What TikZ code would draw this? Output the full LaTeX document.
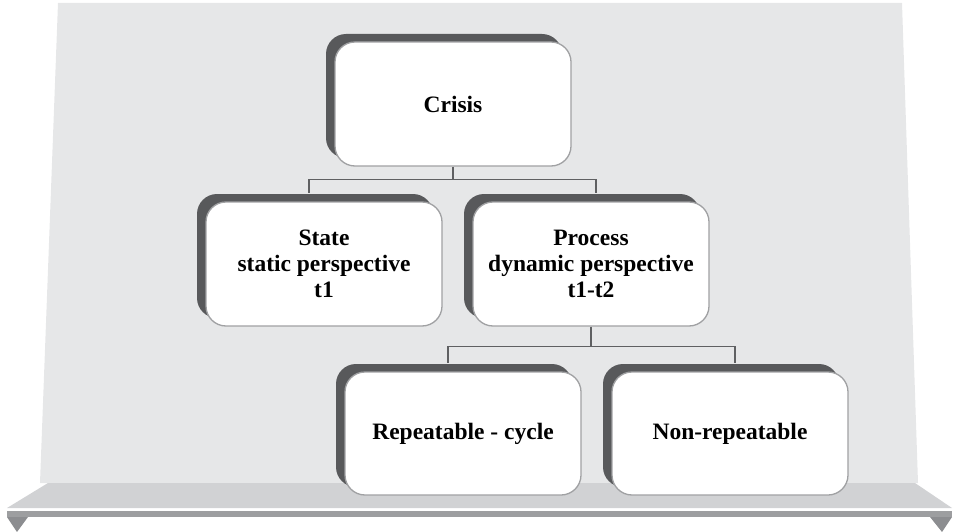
\documentclass[tikz,border=0pt]{standalone}
\usepackage{fontspec}
\setmainfont{Liberation Serif}
\usepackage{tikz}
\usepackage{xcolor}
\usetikzlibrary{shadows}
\definecolor{panelGray}{RGB}{230,231,232}
\definecolor{shelfGray}{RGB}{209,210,212}
\definecolor{stripGray}{RGB}{157,158,160}
\definecolor{footGray}{RGB}{140,141,144}
\definecolor{shadeGray}{RGB}{88,89,91}
\definecolor{edgeGray}{RGB}{160,161,163}
\definecolor{linkGray}{RGB}{95,96,98}

\begin{document}
\begin{tikzpicture}[
  x=1pt, y=-1pt,
  box/.style={draw=edgeGray, line width=1.3pt, fill=white, rounded corners=20pt,
    minimum width=236pt, minimum height=124pt, align=center,
    font=\bfseries\fontsize{23.5}{26}\selectfont,
    drop shadow={shadow xshift=-9pt, shadow yshift=8pt, fill=shadeGray, opacity=1}},
  link/.style={draw=linkGray, line width=1.2pt},
]
  \useasboundingbox (0,0) rectangle (953,532);
  \fill[panelGray] (58,3) -- (902,3) -- (918,483) -- (40,483) -- cycle;
  \fill[shelfGray] (48,483) -- (915,483) -- (952,508) -- (7,508) -- cycle;
  \fill[stripGray] (7,511) rectangle (952,517);
  \fill[footGray] (7,517) -- (28,517) -- (17,532) -- cycle;
  \fill[footGray] (930,517) -- (952,517) -- (942,532) -- cycle;

  \node[box] (crisis) at (453,104) {Crisis};
  \node[box] (state) at (324,264) {State\\static perspective\\t1};
  \node[box] (process) at (591,264) {Process\\dynamic perspective\\t1-t2};
  \node[box, minimum height=123pt] (repeat) at (463,433.5) {Repeatable - cycle};
  \node[box, minimum height=123pt] (nonrepeat) at (730,433.5) {Non-repeatable};

  \draw[link] (crisis.south) -- ([yshift=-13pt]crisis.south) -| ([xshift=-15pt,yshift=8pt]state.north);
  \draw[link] ([yshift=-13pt]crisis.south) -| ([xshift=5pt,yshift=8pt]process.north);
  \draw[link] (process.south) -- ([yshift=-20pt]process.south) -| ([xshift=-15pt,yshift=8pt]repeat.north);
  \draw[link] ([yshift=-20pt]process.south) -| ([xshift=5pt,yshift=8pt]nonrepeat.north);
\end{tikzpicture}
\end{document}
